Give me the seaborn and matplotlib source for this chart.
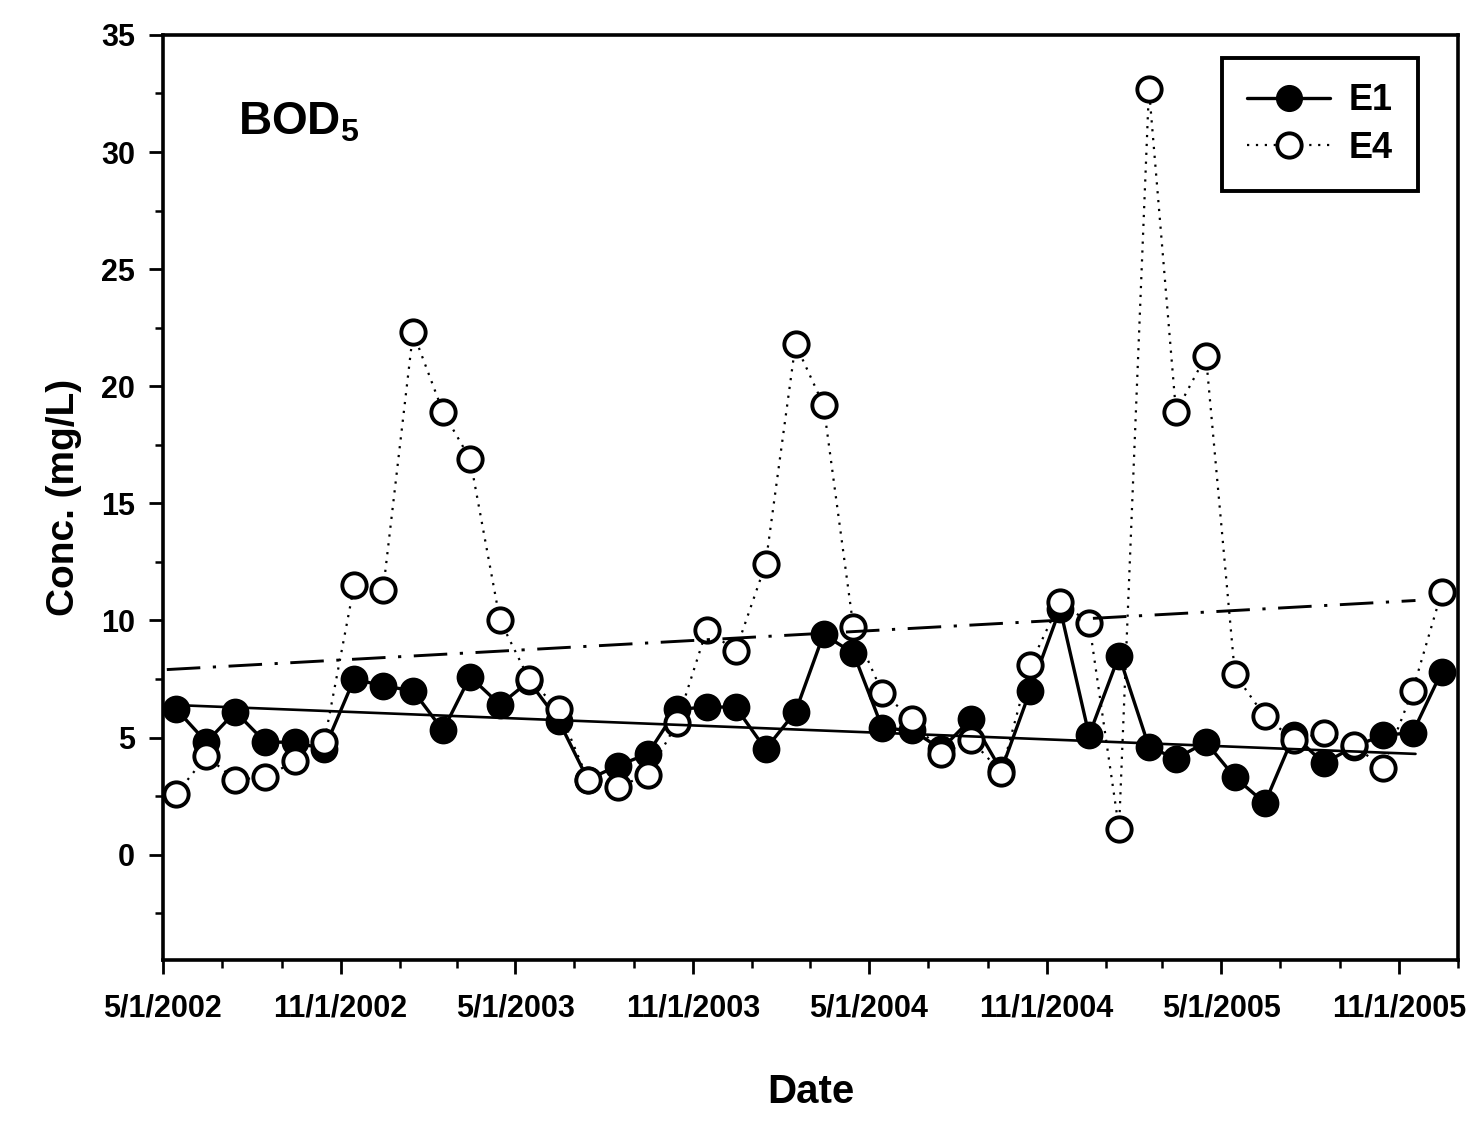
import matplotlib
matplotlib.use("Agg")
import matplotlib.pyplot as plt
import matplotlib.dates as mdates
from matplotlib.ticker import FuncFormatter, MultipleLocator
from matplotlib.lines import Line2D
import numpy as np
import pandas as pd
import seaborn as sns

# Monthly sampling, mid-month, May 2002 - Dec 2005
sample_dates = pd.date_range("2002-05-01", periods=44, freq="MS") + pd.Timedelta(days=14)

# BOD5 concentrations (mg/L)
e1_bod = [6.2, 4.8, 6.1, 4.8, 4.8, 4.5, 7.5, 7.2, 7.0, 5.3, 7.6, 6.4,
          7.4, 5.7, 3.2, 3.8, 4.3, 6.2, 6.3, 6.3, 4.5, 6.1, 9.4, 8.6,
          5.4, 5.3, 4.5, 5.8, 3.6, 7.0, 10.5, 5.1, 8.5, 4.6, 4.1, 4.8,
          3.3, 2.2, 5.1, 3.9, 4.6, 5.1, 5.2, 7.8]
e4_bod = [2.6, 4.2, 3.2, 3.3, 4.0, 4.8, 11.5, 11.3, 22.3, 18.9, 16.9, 10.0,
          7.5, 6.2, 3.2, 2.9, 3.4, 5.6, 9.6, 8.7, 12.4, 21.8, 19.2, 9.7,
          6.9, 5.8, 4.3, 4.9, 3.5, 8.1, 10.8, 9.9, 1.1, 32.7, 18.9, 21.3,
          7.7, 5.9, 4.9, 5.2, 4.7, 3.7, 7.0, 11.2]

# Linear trend lines (start / end)
trend_dates = pd.to_datetime(["2002-05-05", "2005-11-18"])
e1_trend = [6.4, 4.3]
e4_trend = [7.9, 10.85]

sns.set_style("ticks")
plt.rcParams["font.family"] = ["Liberation Sans", "DejaVu Sans"]
plt.rcParams["font.weight"] = "bold"
plt.rcParams["text.color"] = "black"
plt.rcParams["axes.labelcolor"] = "black"
plt.rcParams["xtick.color"] = "black"
plt.rcParams["ytick.color"] = "black"
plt.rcParams["mathtext.fontset"] = "custom"
plt.rcParams["mathtext.rm"] = "Liberation Sans:bold"
plt.rcParams["mathtext.bf"] = "Liberation Sans:bold"

fig = plt.figure(figsize=(14.76, 11.27), dpi=100)
ax = fig.add_axes([0.1104, 0.1482, 0.8774, 0.8208])

df = pd.DataFrame({"date": sample_dates, "E1": e1_bod, "E4": e4_bod})

sns.lineplot(data=df, x="date", y="E1", ax=ax, color="black", lw=2.4,
             marker="o", markersize=18.5, markerfacecolor="black",
             markeredgecolor="black", markeredgewidth=1.5, zorder=3)
sns.lineplot(data=df, x="date", y="E4", ax=ax, color="black", lw=1.6,
             linestyle=(0, (1, 3)), marker="o", markersize=17.5,
             markerfacecolor="white", markeredgecolor="black",
             markeredgewidth=2.8, zorder=4)

tdf = pd.DataFrame({"date": trend_dates, "E1": e1_trend, "E4": e4_trend})
sns.lineplot(data=tdf, x="date", y="E1", ax=ax, color="black", lw=1.9, zorder=5)
sns.lineplot(data=tdf, x="date", y="E4", ax=ax, color="black", lw=2.1,
             linestyle=(0, (11.5, 4.3, 1.1, 4.3)), zorder=5)

ax.set_xlim(pd.Timestamp("2002-05-01"), pd.Timestamp("2006-01-01"))
ax.set_ylim(-4.5, 35)

ax.xaxis.set_major_locator(mdates.MonthLocator(bymonth=[5, 11]))
ax.xaxis.set_minor_locator(mdates.MonthLocator(bymonth=[1, 3, 7, 9]))
ax.xaxis.set_major_formatter(FuncFormatter(
    lambda v, p: (lambda d: f"{d.month}/{d.day}/{d.year}")(mdates.num2date(v))))
ax.yaxis.set_major_locator(MultipleLocator(5))
ax.yaxis.set_major_formatter(FuncFormatter(lambda v, p: f"{v:.0f}" if v >= 0 else ""))
ax.yaxis.set_minor_locator(MultipleLocator(2.5))

ax.tick_params(axis="x", which="major", direction="out", length=10, width=2,
               labelsize=22, pad=14, colors="black")
ax.tick_params(axis="y", which="major", direction="out", length=10, width=2,
               labelsize=22, pad=10, colors="black")
ax.tick_params(axis="both", which="minor", direction="out", length=6, width=1.8)
for lab in ax.get_xticklabels() + ax.get_yticklabels():
    lab.set_fontweight("bold")

for s in ax.spines.values():
    s.set_visible(True)
    s.set_linewidth(2.6)
    s.set_color("black")

ax.set_xlabel("Date", fontsize=29, fontweight="bold", labelpad=36)
ax.set_ylabel("Conc. (mg/L)", fontsize=28, fontweight="bold", labelpad=14)

ax.text(0.058, 0.905, r"BOD$_5$", transform=ax.transAxes, fontsize=33,
        fontweight="bold", ha="left", va="center")

handles = [
    Line2D([], [], color="black", lw=2.4, marker="o", markersize=18.5,
           markerfacecolor="black", markeredgecolor="black"),
    Line2D([], [], color="black", lw=1.6, linestyle=(0, (1, 3)), marker="o",
           markersize=17.5, markerfacecolor="white", markeredgecolor="black",
           markeredgewidth=2.8),
]
leg = ax.legend(handles, ["E1", "E4"], loc="upper right",
                bbox_to_anchor=(0.969, 0.975), borderaxespad=0,
                fontsize=26, frameon=True, fancybox=False, framealpha=1,
                edgecolor="black", handlelength=2.3, handletextpad=0.5,
                borderpad=0.7, labelspacing=0.35)
leg.get_frame().set_linewidth(2.8)
for t in leg.get_texts():
    t.set_fontweight("bold")

fig.savefig("out.png", dpi=100, facecolor="white")
